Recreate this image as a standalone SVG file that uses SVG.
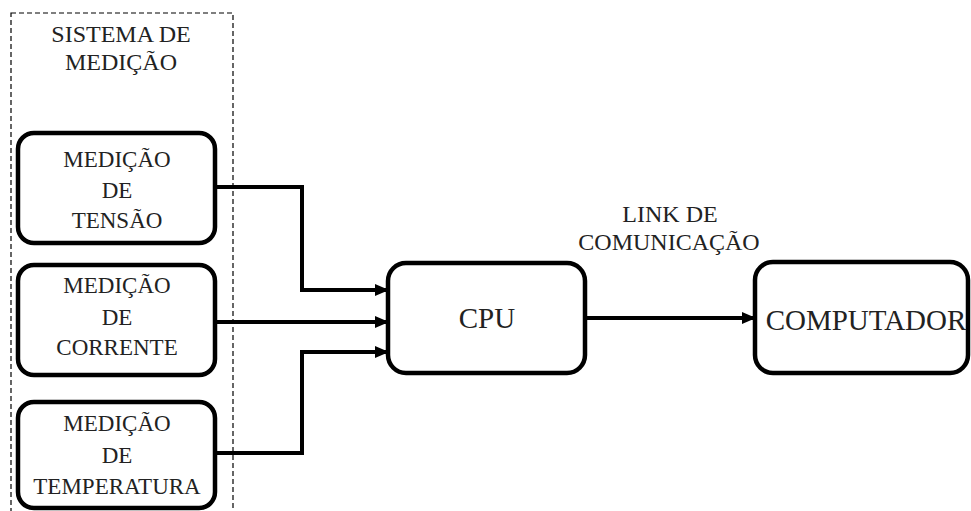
<svg xmlns="http://www.w3.org/2000/svg" width="971" height="511" viewBox="0 0 971 511">
<style>
.box{fill:#fff;stroke:#000;stroke-width:4.5}
text{fill:#222;text-anchor:middle}
.t{font-size:23px}
.m{font-size:24px}
.big{font-size:29px}
.wire{fill:none;stroke:#000;stroke-width:4;stroke-linejoin:miter}
</style>
<defs>
<marker id="ah" markerWidth="14" markerHeight="12" refX="13" refY="6" orient="auto" markerUnits="userSpaceOnUse">
<path d="M0,0 L14,6 L0,12 Z" fill="#000"/>
</marker>
</defs>
<rect width="971" height="511" fill="#fff"/>
<g font-family="Liberation Serif, Times New Roman, serif">
<g id="sistema">
<rect x="11" y="13" width="222" height="520" fill="none" stroke="#000" stroke-width="1.2" stroke-dasharray="5,3"/>
<text class="m" x="121" y="42">SISTEMA DE</text>
<text class="m" x="121" y="70">MEDIÇÃO</text>
</g>
<g id="tensao">
<rect class="box" x="18" y="133" width="197" height="110" rx="16"/>
<text class="t" x="117" y="167">MEDIÇÃO</text>
<text class="t" x="117" y="198">DE</text>
<text class="t" x="117" y="228">TENSÃO</text>
</g>
<g id="corrente">
<rect class="box" x="18" y="265" width="197" height="110" rx="16"/>
<text class="t" x="117" y="293">MEDIÇÃO</text>
<text class="t" x="117" y="325">DE</text>
<text class="t" x="117" y="355">CORRENTE</text>
</g>
<g id="temperatura">
<rect class="box" x="18" y="402" width="197" height="106" rx="16"/>
<text class="t" x="117" y="431">MEDIÇÃO</text>
<text class="t" x="117" y="463">DE</text>
<text class="t" x="117" y="494">TEMPERATURA</text>
</g>
<g id="cpu">
<rect class="box" x="388" y="263" width="197" height="110" rx="18"/>
<text class="big" x="487" y="328">CPU</text>
</g>
<g id="computador">
<rect class="box" x="755" y="262" width="213" height="111" rx="18"/>
<text class="big" x="866" y="330">COMPUTADOR</text>
</g>
<g id="link-label">
<text class="m" x="670" y="222">LINK DE</text>
<text class="m" x="669" y="250">COMUNICAÇÃO</text>
</g>
</g>
<g id="connectors">
<polyline class="wire" points="215,187 302,187 302,290 388,290" marker-end="url(#ah)"/>
<polyline class="wire" points="215,322 388,322" marker-end="url(#ah)"/>
<polyline class="wire" points="215,453 302,453 302,352 388,352" marker-end="url(#ah)"/>
<polyline class="wire" points="585,318 755,318" marker-end="url(#ah)"/>
</g>
</svg>
